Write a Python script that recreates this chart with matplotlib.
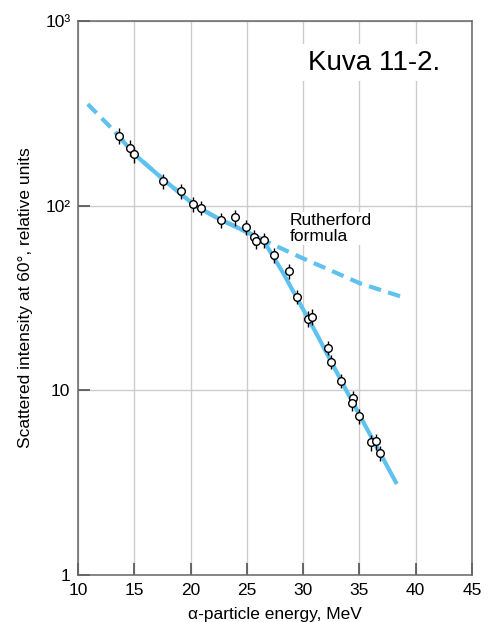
"""Rutherford scattering: alpha-particle energy vs scattered intensity (Kuva 11-2)."""
import matplotlib
matplotlib.use("Agg")
import matplotlib.pyplot as plt
import numpy as np
from matplotlib.ticker import FixedLocator, FixedFormatter, NullLocator

plt.rcParams["font.family"] = ["Liberation Sans", "DejaVu Sans"]

# measured points (MeV, relative units)
energy = [13.64, 14.62, 15.0, 17.52, 19.15, 20.24, 20.9, 22.67, 23.94, 24.92,
          25.61, 25.84, 26.49, 27.4, 28.72, 29.43, 30.45, 30.78, 32.23, 32.44,
          33.36, 34.45, 34.36, 34.95, 36.0, 36.47, 36.82]
intensity = [239, 206, 190, 136, 120, 102, 97.4, 83.6, 86.4, 76.3,
             67.4, 64.2, 65.1, 53.8, 44.2, 32.2, 24.4, 25.0, 17.0, 14.3,
             11.3, 9.12, 8.5, 7.23, 5.23, 5.30, 4.58]
rel_err = [0.10, 0.10, 0.10, 0.09, 0.09, 0.09, 0.09, 0.09, 0.10, 0.09,
           0.09, 0.09, 0.09, 0.09, 0.09, 0.09, 0.10, 0.10, 0.09, 0.09,
           0.09, 0.09, 0.09, 0.09, 0.10, 0.10, 0.09]

# Rutherford formula curve (dashed)
ruth_e = [10.86, 13.29, 15.0, 17.5, 20.4, 22.5, 25.0, 26.46, 30.0, 32.38, 35.04, 39.19]
ruth_i = [355, 251, 190, 140, 100, 85, 72, 65.1, 51.8, 44.8, 38.0, 31.5]

# fitted curve through the data (solid)
fit_e = [13.29, 15.0, 17.5, 20.4, 22.5, 25.0, 26.46, 28.2, 31.2, 34.15, 38.33]
fit_i = [251, 190, 140, 100, 85, 72, 65.1, 43.5, 20.2, 9.2, 3.11]

xticks = [10, 15, 20, 25, 30, 35, 40, 45]
yticks = [1, 10, 100, 1000]
ytick_labels = ["1", "10", "10\u00b2", "10\u00b3"]

blue = "#5ec1ee"


def main():
    fig = plt.figure(figsize=(4.91, 6.22), dpi=100)
    ax = fig.add_axes([0.159, 0.0756, 0.802, 0.8906])

    ax.set_yscale("log")
    ax.set_xlim(10, 45)
    ax.set_ylim(1, 1000)

    ax.grid(True, color="#cccccc", linewidth=1.0, zorder=0)
    ax.plot(ruth_e, ruth_i, color=blue, linewidth=3.0, dashes=(3.0, 1.8),
            solid_capstyle="butt", zorder=2)
    ax.plot(fit_e, fit_i, color=blue, linewidth=3.0, solid_capstyle="butt", zorder=3)

    e = np.array(intensity) * np.array(rel_err)
    ax.errorbar(energy, intensity, yerr=e, fmt="o", ms=5.5, mfc="white", mec="black",
                mew=1.0, ecolor="black", elinewidth=1.0, capsize=0, zorder=4)

    ax.xaxis.set_major_locator(FixedLocator(xticks))
    ax.yaxis.set_major_locator(FixedLocator(yticks))
    ax.yaxis.set_major_formatter(FixedFormatter(ytick_labels))
    ax.yaxis.set_minor_locator(NullLocator())
    ax.tick_params(direction="in", length=8.5, width=1.1, color="#444444",
                   labelsize=12.5)
    ax.tick_params(axis="x", pad=6)
    ax.tick_params(axis="y", pad=5.5)
    for s in ax.spines.values():
        s.set_color("#666666")
        s.set_linewidth(1.1)

    ax.set_xlabel("\u03b1-particle energy, MeV", fontsize=12.5, labelpad=6)
    ax.set_ylabel("Scattered intensity at 60\u00b0, relative units", fontsize=12.5,
                  labelpad=9)

    ax.text(0.751, 0.925, "Kuva 11-2.", transform=ax.transAxes, fontsize=20,
            ha="center", va="center", zorder=5,
            bbox=dict(facecolor="white", edgecolor="none", pad=4))
    ax.text(0.538, 0.625, "Rutherford\nformula", transform=ax.transAxes, fontsize=12.5,
            ha="left", va="center", linespacing=1.05, zorder=5,
            bbox=dict(facecolor="white", edgecolor="none", pad=1))

    fig.savefig("out.png", dpi=100)


if __name__ == "__main__":
    main()
